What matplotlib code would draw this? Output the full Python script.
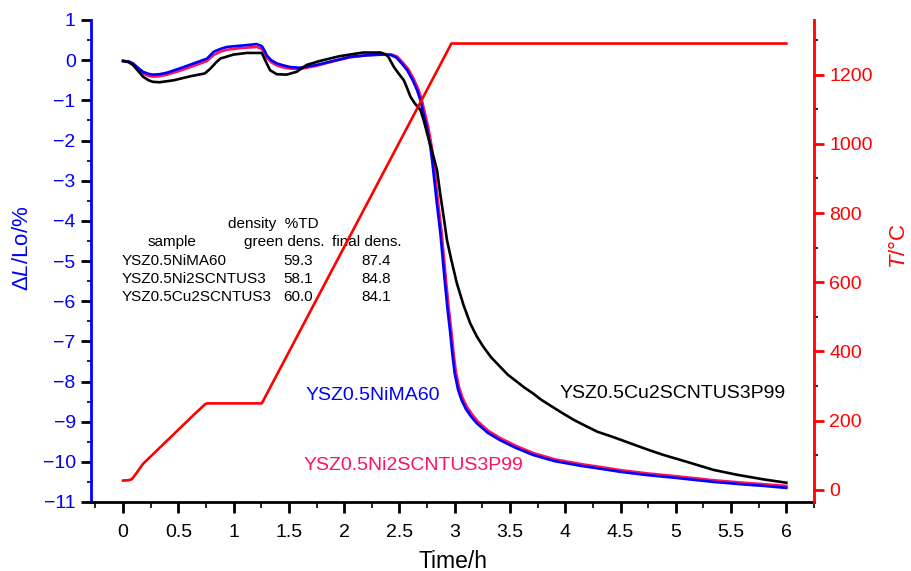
import matplotlib
matplotlib.use("Agg")
import matplotlib.pyplot as plt
from matplotlib.ticker import MultipleLocator

plt.rcParams['font.family'] = ['Liberation Sans', 'DejaVu Sans']
plt.rcParams['mathtext.fontset'] = 'custom'
plt.rcParams['mathtext.rm'] = 'Liberation Sans'
plt.rcParams['mathtext.it'] = 'Liberation Sans:italic'

# ---- data ----
temp_t = [0.0, 0.05, 0.08, 0.12, 0.18, 0.64, 0.74, 0.76, 1.255, 2.97, 6.0]
temp_T = [27, 28, 31, 48, 75, 217, 247, 250, 250, 1290, 1290]

nima_t = [0.0, 0.05, 0.09, 0.14, 0.18, 0.23, 0.27, 0.33, 0.40, 0.55, 0.70, 0.76, 0.82, 0.88,
          0.94, 1.06, 1.21, 1.255, 1.28, 1.30, 1.34, 1.39, 1.45, 1.51, 1.60, 1.75, 1.90, 2.05,
          2.20, 2.36, 2.42, 2.47, 2.52, 2.57, 2.62, 2.66, 2.69, 2.71, 2.75, 2.78, 2.80, 2.82,
          2.84, 2.87, 2.89, 2.91, 2.935, 2.96, 2.98, 3.00, 3.03, 3.06, 3.10, 3.15, 3.20, 3.30,
          3.41, 3.55, 3.71, 3.90, 4.14, 4.29, 4.50, 4.74, 5.00, 5.34, 5.60, 5.80, 6.00]
nima_d = [-0.02, -0.03, -0.08, -0.20, -0.29, -0.34, -0.36, -0.35, -0.31, -0.17, -0.02, 0.04,
          0.21, 0.28, 0.33, 0.36, 0.40, 0.35, 0.24, 0.12, 0.00, -0.08, -0.13, -0.17, -0.19,
          -0.12, -0.02, 0.08, 0.12, 0.14, 0.13, 0.07, -0.08, -0.25, -0.50, -0.75, -1.00, -1.24,
          -1.70, -2.16, -2.60, -3.10, -3.60, -4.30, -4.90, -5.50, -6.20, -6.80, -7.35, -7.80,
          -8.20, -8.45, -8.68, -8.88, -9.04, -9.28, -9.46, -9.65, -9.83, -9.98, -10.10, -10.16,
          -10.25, -10.33, -10.40, -10.50, -10.56, -10.60, -10.65]

ni2_t = [0.0, 0.05, 0.09, 0.14, 0.18, 0.23, 0.27, 0.33, 0.40, 0.55, 0.70, 0.76, 0.82, 0.88,
         0.94, 1.06, 1.21, 1.255, 1.28, 1.30, 1.34, 1.39, 1.45, 1.51, 1.60, 1.75, 1.90, 2.05,
         2.20, 2.36, 2.43, 2.48, 2.53, 2.58, 2.63, 2.67, 2.70, 2.72, 2.76, 2.79, 2.81, 2.83,
         2.85, 2.88, 2.90, 2.92, 2.945, 2.97, 2.99, 3.01, 3.04, 3.07, 3.11, 3.16, 3.21, 3.31,
         3.42, 3.56, 3.72, 3.91, 4.15, 4.30, 4.51, 4.75, 5.01, 5.35, 5.61, 5.81, 6.00]
ni2_d = [-0.02, -0.04, -0.10, -0.23, -0.33, -0.39, -0.41, -0.40, -0.36, -0.23, -0.08, -0.02,
         0.13, 0.21, 0.26, 0.30, 0.33, 0.28, 0.17, 0.06, -0.05, -0.13, -0.18, -0.21, -0.22,
         -0.14, -0.03, 0.07, 0.12, 0.15, 0.14, 0.09, -0.06, -0.22, -0.47, -0.72, -0.96, -1.20,
         -1.66, -2.12, -2.55, -3.05, -3.55, -4.25, -4.85, -5.45, -6.15, -6.75, -7.30, -7.75,
         -8.15, -8.40, -8.63, -8.83, -9.00, -9.24, -9.42, -9.61, -9.79, -9.94, -10.06, -10.12,
         -10.21, -10.29, -10.36, -10.46, -10.52, -10.56, -10.60]

cu2_t = [0.0, 0.05, 0.09, 0.14, 0.18, 0.23, 0.27, 0.33, 0.46, 0.61, 0.74, 0.79, 0.84, 0.88,
         1.00, 1.12, 1.255, 1.285, 1.33, 1.39, 1.48, 1.57, 1.66, 1.78, 1.96, 2.17, 2.33, 2.37,
         2.40, 2.45, 2.50, 2.54, 2.57, 2.60, 2.64, 2.69, 2.72, 2.75, 2.78, 2.81, 2.84, 2.87,
         2.90, 2.93, 2.97, 3.02, 3.08, 3.14, 3.20, 3.26, 3.33, 3.41, 3.48, 3.56, 3.63, 3.71,
         3.78, 3.86, 3.97, 4.08, 4.18, 4.29, 4.43, 4.60, 4.75, 4.89, 5.10, 5.34, 5.55, 5.80, 6.00]
cu2_d = [-0.02, -0.05, -0.12, -0.28, -0.41, -0.50, -0.54, -0.55, -0.50, -0.40, -0.33, -0.21,
         -0.06, 0.04, 0.14, 0.18, 0.18, 0.00, -0.25, -0.35, -0.36, -0.29, -0.12, -0.02, 0.10,
         0.19, 0.19, 0.15, 0.08, -0.17, -0.36, -0.50, -0.70, -0.91, -1.08, -1.24, -1.50, -1.82,
         -2.12, -2.42, -2.74, -3.35, -3.90, -4.48, -4.98, -5.56, -6.10, -6.55, -6.88, -7.14,
         -7.40, -7.63, -7.83, -8.00, -8.15, -8.30, -8.45, -8.59, -8.78, -8.96, -9.10, -9.25,
         -9.38, -9.55, -9.70, -9.83, -10.00, -10.20, -10.32, -10.44, -10.52]

table_header1 = "density  %TD"
table_header2 = ["sample", "green dens.", "final dens."]
table_samples = ["YSZ0.5NiMA60", "YSZ0.5Ni2SCNTUS3", "YSZ0.5Cu2SCNTUS3"]
table_green = ["59.3", "58.1", "60.0"]
table_final = ["87.4", "84.8", "84.1"]

labels = ["YSZ0.5NiMA60", "YSZ0.5Ni2SCNTUS3P99", "YSZ0.5Cu2SCNTUS3P99"]
xtick_vals = [0, 0.5, 1, 1.5, 2, 2.5, 3, 3.5, 4, 4.5, 5, 5.5, 6]
xtick_labels = ['0', '0.5', '1', '1.5', '2', '2.5', '3', '3.5', '4', '4.5', '5', '5.5', '6']

BLUE = '#0000FF'
RED = '#FF0000'
CRIMSON = '#FF1060'

fig = plt.figure(figsize=(9.12, 5.71), dpi=100)
ax = fig.add_axes([91/912, 69/571, (814-91)/912, 482/571])
ax2 = ax.twinx()

ax.plot(ni2_t, ni2_d, color=CRIMSON, lw=1.9, zorder=3)
ax.plot(nima_t, nima_d, color=BLUE, lw=1.9, zorder=4)
ax.plot(cu2_t, cu2_d, color='black', lw=1.9, zorder=5)
ax2.plot(temp_t, temp_T, color=RED, lw=1.9)

ax.set_xlim(-0.29, 6.25)
ax.set_ylim(-11, 1)
ax2.set_ylim(-35, 1358)

ax.xaxis.set_minor_locator(MultipleLocator(0.25))
ax.yaxis.set_major_locator(MultipleLocator(1))
ax.yaxis.set_minor_locator(MultipleLocator(0.5))
ax2.yaxis.set_minor_locator(MultipleLocator(100))
ax2.set_yticks(range(0, 1201, 200))

ax.set_xticks(xtick_vals)
ax.set_xticklabels(xtick_labels)

for a in (ax, ax2):
    a.spines['top'].set_visible(False)
ax.spines['right'].set_visible(False)
ax2.spines['left'].set_visible(False)
ax2.spines['bottom'].set_visible(False)
ax.spines['left'].set_color(BLUE)
ax.spines['left'].set_linewidth(2)
ax.spines['bottom'].set_color('black')
ax.spines['bottom'].set_linewidth(2)
ax2.spines['right'].set_color(RED)
ax2.spines['right'].set_linewidth(2)

ax.tick_params(axis='y', which='major', direction='out', length=7, width=2, color='black',
               labelcolor=BLUE, labelsize=14, pad=4)
ax.tick_params(axis='y', which='minor', direction='out', length=3, width=1.2, color='black')
ax.tick_params(axis='x', which='major', direction='out', length=8, width=2, color='black',
               labelcolor='black', labelsize=14, pad=8)
ax.tick_params(axis='x', which='minor', direction='out', length=4, width=1.2, color='black')
ax2.tick_params(axis='y', which='major', direction='out', length=7, width=2, color=RED,
                labelcolor=RED, labelsize=14, pad=4)
ax2.tick_params(axis='y', which='minor', direction='out', length=3, width=1.2, color='black')

fig.text(453/912, 1 - 561/571, 'Time/h', fontsize=16.5, ha='center', va='center')
fig.text(23/912, 1 - 248/571, r'$\Delta\mathit{L}$/Lo/%', color=BLUE, fontsize=16,
         rotation=90, ha='center', va='center')
fig.text(900/912, 1 - 246/571, r'$\mathit{T}$/°C', color=RED, fontsize=16,
         rotation=90, ha='center', va='center')

# curve labels
ax.text(1.65, -8.34, labels[0], color=BLUE, fontsize=14, va='center', ha='left')
ax.text(1.63, -10.08, labels[1], color=CRIMSON, fontsize=14, va='center', ha='left')
ax.text(3.95, -8.29, labels[2], color='black', fontsize=14, va='center', ha='left')

# table
fs = 11
ax.text(0.95, -4.07, table_header1, fontsize=fs, va='center', ha='left')
ax.text(0.22, -4.53, table_header2[0], fontsize=fs, va='center', ha='left')
ax.text(1.09, -4.53, table_header2[1], fontsize=fs, va='center', ha='left')
ax.text(1.89, -4.53, table_header2[2], fontsize=fs, va='center', ha='left')
row_y = [-5.0, -5.45, -5.9]
for i in range(3):
    ax.text(-0.01, row_y[i], table_samples[i], fontsize=fs, va='center', ha='left')
    ax.text(1.45, row_y[i], table_green[i], fontsize=fs, va='center', ha='left')
    ax.text(2.16, row_y[i], table_final[i], fontsize=fs, va='center', ha='left')

fig.savefig('out.png', dpi=100)
